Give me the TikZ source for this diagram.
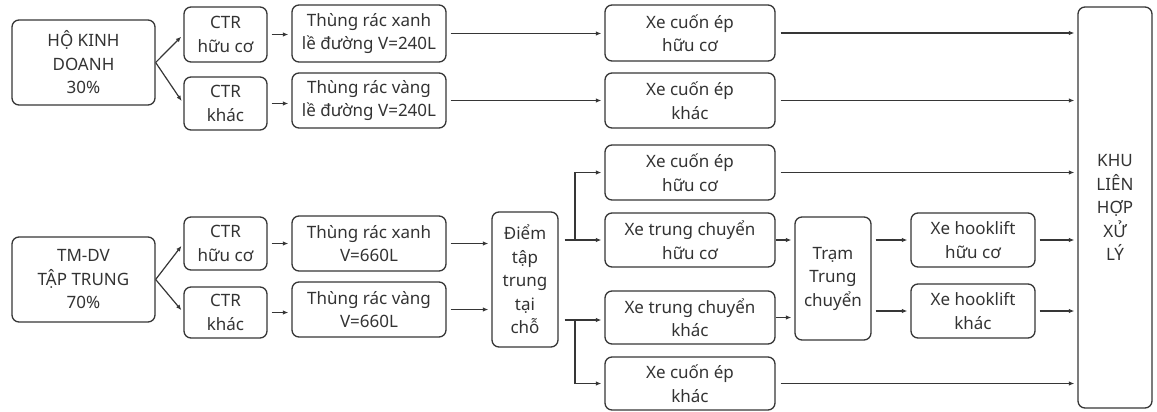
\documentclass[tikz,border=0pt]{standalone}
\usepackage{fontspec}
\setmainfont{Noto Sans}
\usetikzlibrary{arrows.meta}
\definecolor{ink}{HTML}{363636}
\definecolor{txt}{HTML}{333333}
\begin{document}
\begin{tikzpicture}[x=1pt,y=-1pt,
  box/.style={draw=ink, line width=1.3pt, rounded corners=7pt, align=center,
    inner sep=0pt, text=txt, font=\fontsize{17}{23.5}\selectfont},
  link/.style={draw=ink, line width=1.2pt, -{Latex[length=5.5pt,width=4.5pt]}, shorten >=3pt},
  src/.style={shorten <=4pt}]
\useasboundingbox (0,0) rectangle (1157,412);

% sources
\node[box, minimum width=143pt, minimum height=85pt] (hkd) at (83.5,62.5) {HỘ KINH\\DOANH\\30\%};
\node[box, minimum width=143pt, minimum height=85pt] (tm) at (83.5,279.5) {TM-DV\\TẬP TRUNG\\70\%};

% waste streams
\node[box, minimum width=83pt, minimum height=55pt] (ctr1) at (225.5,34.5) {CTR\\hữu cơ};
\node[box, minimum width=83pt, minimum height=53pt] (ctr2) at (225.5,103.5) {CTR\\khác};
\node[box, minimum width=83pt, minimum height=53pt] (ctr3) at (225.5,243.5) {CTR\\hữu cơ};
\node[box, minimum width=83pt, minimum height=51pt] (ctr4) at (225.5,312.5) {CTR\\khác};

% bins
\node[box, minimum width=154pt, minimum height=57pt] (th1) at (369,33.5) {Thùng rác xanh\\lề đường V=240L};
\node[box, minimum width=154pt, minimum height=55pt] (th2) at (369,100.5) {Thùng rác vàng\\lề đường V=240L};
\node[box, minimum width=154pt, minimum height=55pt] (th3) at (369,243.5) {Thùng rác xanh\\V=660L};
\node[box, minimum width=154pt, minimum height=55pt] (th4) at (369,309.5) {Thùng rác vàng\\V=660L};

% gathering point
\node[box, minimum width=66pt, minimum height=135pt] (diem) at (525,279.5) {Điểm\\tập\\trung\\tại\\chỗ};

% vehicles
\node[box, minimum width=170pt, minimum height=56pt] (xe1) at (690,33) {Xe cuốn ép\\hữu cơ};
\node[box, minimum width=170pt, minimum height=55pt] (xe2) at (690,100.5) {Xe cuốn ép\\khác};
\node[box, minimum width=170pt, minimum height=55pt] (xe3) at (690,172.5) {Xe cuốn ép\\hữu cơ};
\node[box, minimum width=170pt, minimum height=54pt] (xe4) at (690,240) {Xe trung chuyển\\hữu cơ};
\node[box, minimum width=170pt, minimum height=53pt] (xe5) at (690,317.5) {Xe trung chuyển\\khác};
\node[box, minimum width=170pt, minimum height=53pt] (xe6) at (690,383.5) {Xe cuốn ép\\khác};

% transfer station and hooklift trucks
\node[box, minimum width=76pt, minimum height=123pt] (tram) at (833,278.5) {Trạm\\Trung\\chuyển};
\node[box, minimum width=124pt, minimum height=54pt] (hk1) at (973,240) {Xe hooklift\\hữu cơ};
\node[box, minimum width=124pt, minimum height=54pt] (hk2) at (973,311) {Xe hooklift\\khác};

% treatment complex
\node[box, minimum width=74pt, minimum height=401pt] (khu) at (1115,207.5) {KHU\\LIÊN\\HỢP\\XỬ\\LÝ};

% source splits
\draw[link] (hkd.east) -- (ctr1.west);
\draw[link] (hkd.east) -- (ctr2.west);
\draw[link] (tm.east) -- (ctr3.west);
\draw[link] (tm.east) -- (ctr4.west);

% streams into bins
\foreach \a/\b in {ctr1/th1, ctr2/th2, ctr3/th3, ctr4/th4}
  \draw[link, src] (\a.east) -- (\a.east -| \b.west);

% curbside bins to compactor trucks
\draw[link, src] (th1.east) -- (th1.east -| xe1.west);
\draw[link, src] (th2.east) -- (th2.east -| xe2.west);

% bins to gathering point
\draw[link, src] (th3.east) -- (th3.east -| diem.west);
\draw[link, src] (th4.east) -- (th4.east -| diem.west);

% gathering point branches
\coordinate (jt) at (575,240);
\coordinate (jb) at (575,320);
\draw[link] ([xshift=6pt]diem.east |- jt) -- (jt -| xe4.west);
\draw[link] (jt) |- (xe3.west);
\draw[link] ([xshift=6pt]diem.east |- jb) -- (jb -| xe5.west);
\draw[link] (jb) |- (xe6.west);

% transfer trucks to station
\draw[link] (xe4.east) -- (xe4.east -| tram.west);
\draw[link] (xe5.east) -- (xe5.east -| tram.west);

% station to hooklift trucks
\draw[link, src] (tram.east |- hk1.west) -- (hk1.west);
\draw[link, src] (tram.east |- hk2.west) -- (hk2.west);

% everything into the treatment complex
\foreach \v in {xe1, xe2, xe3, xe6}
  \draw[link, shorten <=5pt] (\v.east) -- (\v.east -| khu.west);
\foreach \v in {hk1, hk2}
  \draw[link, src] (\v.east) -- (\v.east -| khu.west);
\end{tikzpicture}
\end{document}
